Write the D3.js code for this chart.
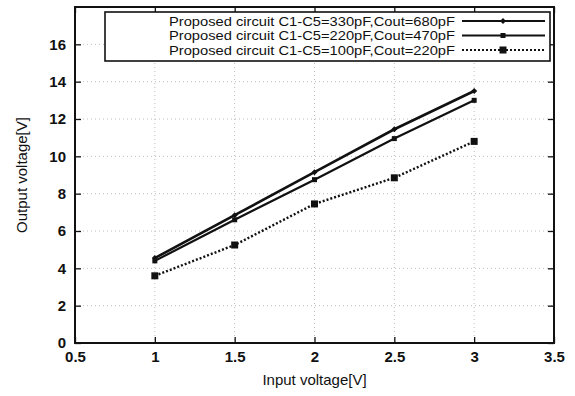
<!DOCTYPE html>
<html>
<head>
<meta charset="utf-8">
<script src="https://cdn.jsdelivr.net/npm/d3@7"></script>
<style>
  body { margin: 0; background: #fff; }
  text { font-family: "Liberation Sans", Arial, sans-serif; fill: #111; }
</style>
</head>
<body>
<div id="chart"></div>
<script>
// chart data
const inputVoltage = [1, 1.5, 2, 2.5, 3];
const seriesNames = [
  "Proposed circuit C1-C5=330pF,Cout=680pF",
  "Proposed circuit C1-C5=220pF,Cout=470pF",
  "Proposed circuit C1-C5=100pF,Cout=220pF"
];
const out330 = [4.55, 6.85, 9.15, 11.45, 13.5];
const out220 = [4.4, 6.6, 8.75, 10.95, 13.0];
const out100 = [3.6, 5.25, 7.45, 8.85, 10.8];
const xTicks = [0.5, 1, 1.5, 2, 2.5, 3, 3.5];
const yTicks = [0, 2, 4, 6, 8, 10, 12, 14, 16];

const W = 575, H = 396;
const margin = {top: 7, right: 21, bottom: 53, left: 75},
    width = W - margin.left - margin.right,
    height = H - margin.top - margin.bottom;

const svg = d3.select("#chart").append("svg")
    .attr("width", W)
    .attr("height", H);

const g = svg.append("g")
    .attr("transform", `translate(${margin.left},${margin.top})`);

const x = d3.scaleLinear().domain([0.5, 3.5]).range([0, width]);
const y = d3.scaleLinear().domain([0, 18]).range([height, 0]);

// grid
g.append("g").selectAll("line").data(yTicks.slice(1)).join("line")
    .attr("x1", 0).attr("x2", width)
    .attr("y1", d => y(d)).attr("y2", d => y(d))
    .attr("stroke", "#aaa").attr("stroke-width", 0.8)
    .attr("stroke-dasharray", "1,3");
g.append("g").selectAll("line").data(xTicks.slice(1, -1)).join("line")
    .attr("y1", 0).attr("y2", height)
    .attr("x1", d => x(d)).attr("x2", d => x(d))
    .attr("stroke", "#aaa").attr("stroke-width", 0.8)
    .attr("stroke-dasharray", "1,3");

// axes (ticks pointing inward, mirrored)
const axisFont = "bold 15px 'Liberation Sans', Arial, sans-serif";
g.append("g")
    .attr("transform", `translate(0,${height})`)
    .style("font", axisFont)
    .call(d3.axisBottom(x).tickValues(xTicks).tickSize(-6).tickPadding(8).tickFormat(d3.format("")))
    .call(a => a.select(".domain").remove());
g.append("g")
    .style("font", axisFont)
    .call(d3.axisLeft(y).tickValues(yTicks).tickSize(-6).tickPadding(9))
    .call(a => a.select(".domain").remove());
g.append("g")
    .call(d3.axisTop(x).tickValues(xTicks).tickSize(-6).tickFormat(""))
    .call(a => a.select(".domain").remove());
g.append("g")
    .attr("transform", `translate(${width},0)`)
    .call(d3.axisRight(y).tickValues(yTicks).tickSize(-6).tickFormat(""))
    .call(a => a.select(".domain").remove());
g.selectAll(".tick line").attr("stroke", "#111").attr("stroke-width", 1.3);
g.selectAll(".tick text").attr("fill", "#111");

// frame
g.append("rect")
    .attr("width", width).attr("height", height)
    .attr("fill", "none").attr("stroke", "#111").attr("stroke-width", 2);

// axis titles
svg.append("text")
    .attr("text-anchor", "middle")
    .attr("x", margin.left + width / 2)
    .attr("y", 385)
    .style("font-size", "15px")
    .text("Input voltage[V]");
svg.append("text")
    .attr("text-anchor", "middle")
    .attr("transform", `translate(27,${margin.top + height / 2}) rotate(-90)`)
    .style("font-size", "15px")
    .text("Output voltage[V]");

// series
const series = [
  {name: seriesNames[0], values: out330, dash: null, width: 2.6, marker: "diamond", size: 3},
  {name: seriesNames[1], values: out220, dash: null, width: 2.2, marker: "square", size: 5},
  {name: seriesNames[2], values: out100, dash: "2,2", width: 2.4, marker: "square", size: 7}
];

const line = d3.line()
    .x((d, i) => x(inputVoltage[i]))
    .y(d => y(d));

function drawMarker(sel, s, cx, cy) {
  if (s.marker === "diamond") {
    sel.append("path")
        .attr("d", `M${cx},${cy - s.size}L${cx + s.size},${cy}L${cx},${cy + s.size}L${cx - s.size},${cy}Z`)
        .attr("fill", "#111");
  } else {
    sel.append("rect")
        .attr("x", cx - s.size / 2).attr("y", cy - s.size / 2)
        .attr("width", s.size).attr("height", s.size)
        .attr("fill", "#111");
  }
}

series.forEach(s => {
  g.append("path")
      .datum(s.values)
      .attr("fill", "none")
      .attr("stroke", "#111")
      .attr("stroke-width", s.width)
      .attr("stroke-dasharray", s.dash)
      .attr("d", line);
  const mg = g.append("g");
  s.values.forEach((v, i) => drawMarker(mg, s, x(inputVoltage[i]), y(v)));
});

// legend
const legend = svg.append("g");
legend.append("rect")
    .attr("x", 105).attr("y", 12)
    .attr("width", 445).attr("height", 49)
    .attr("fill", "#fff").attr("stroke", "#111").attr("stroke-width", 1.6);
series.forEach((s, i) => {
  const ly = 21 + i * 14.5;
  legend.append("text")
      .attr("x", 455).attr("y", ly)
      .attr("dy", "0.35em")
      .attr("text-anchor", "end")
      .attr("textLength", 286)
      .attr("lengthAdjust", "spacingAndGlyphs")
      .style("font-size", "13px")
      .text(s.name);
  legend.append("line")
      .attr("x1", 462).attr("x2", 545)
      .attr("y1", ly).attr("y2", ly)
      .attr("stroke", "#111")
      .attr("stroke-width", s.width * 0.8)
      .attr("stroke-dasharray", s.dash);
  drawMarker(legend, s, 503, ly);
});
</script>
</body>
</html>
